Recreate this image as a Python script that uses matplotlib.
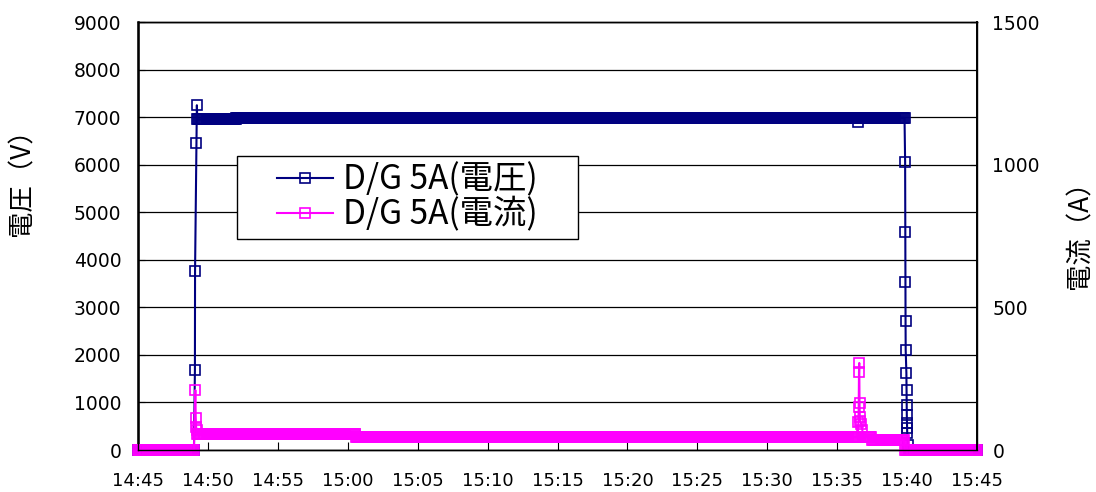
import numpy as np
import matplotlib
matplotlib.use('Agg')
import matplotlib.pyplot as plt
from matplotlib.patches import Rectangle

plt.rcParams['font.family'] = ['DejaVu Sans', 'Noto Sans CJK JP']
CJK = ['Noto Sans CJK JP', 'DejaVu Sans']

# time axis: minutes after 14:45
tick_minutes = list(range(0, 61, 5))
tick_labels = ['14:45', '14:50', '14:55', '15:00', '15:05', '15:10', '15:15',
               '15:20', '15:25', '15:30', '15:35', '15:40', '15:45']
STEP = 1 / 15  # logger interval (4 s)

# voltage: steady runs (start, end, V) and the transient samples between them
volt_runs = [(0.0, 4.05, 0), (4.24, 7.0, 6950), (7.0, 51.5, 6985),
             (51.55, 54.85, 6985), (55.12, 60.05, 0)]
volt_rise_t = [4.07, 4.08, 4.18, 4.21]
volt_rise_v = [1680, 3760, 6450, 7250]
volt_dip_t = [51.5]
volt_dip_v = [6900]
volt_fall_t = [54.86, 54.87, 54.88, 54.89, 54.90, 54.95, 54.96, 54.97,
               54.98, 54.99, 55.00, 55.01, 55.05]
volt_fall_v = [6056, 4584, 3533, 2713, 2103, 1619, 1262, 946, 736, 568,
               463, 357, 100]

# current: steady runs (start, end, A) and transients
cur_runs = [(0.0, 4.06, 0), (4.22, 15.6, 56), (15.6, 51.5, 45),
            (51.85, 52.5, 45), (52.5, 54.8, 35), (54.85, 60.05, 0)]
cur_rise_t = [4.1, 4.13, 4.16, 4.19]
cur_rise_v = [210, 112, 80, 70]
cur_spike_t = [51.52, 51.54, 51.56, 51.58, 51.60, 51.62, 51.66, 51.72, 51.8]
cur_spike_v = [98, 150, 273, 305, 165, 115, 100, 90, 70]


def runs_to_series(runs):
    t, v = [], []
    for start, end, val in runs:
        ts = np.arange(start, end, STEP)
        t.append(ts)
        v.append(np.full(len(ts), val, dtype=float))
    return np.concatenate(t), np.concatenate(v)


def build(runs, extra):
    t, v = runs_to_series(runs)
    for et, ev in extra:
        t = np.concatenate([t, et])
        v = np.concatenate([v, ev])
    order = np.argsort(t, kind='stable')
    return t[order], v[order]


vt, vv = build(volt_runs, [(volt_rise_t, volt_rise_v), (volt_dip_t, volt_dip_v),
                           (volt_fall_t, volt_fall_v)])
ct, cv = build(cur_runs, [(cur_rise_t, cur_rise_v), (cur_spike_t, cur_spike_v)])

navy = '#000080'
magenta = '#FF00FF'

fig = plt.figure(figsize=(10.96, 4.92), dpi=100)
ax1 = fig.add_axes([138 / 1096, 42 / 492, 839 / 1096, 428 / 492])
ax2 = ax1.twinx()

l1, = ax1.plot(vt, vv, color=navy, lw=1.5, marker='s', ms=7.5, mfc='none',
               mew=1.2, clip_on=False, label='D/G 5A(電圧)')
l2, = ax2.plot(ct, cv, color=magenta, lw=1.5, marker='s', ms=7.5, mfc='none',
               mew=1.2, clip_on=False, label='D/G 5A(電流)')

ax1.set_xlim(0, 60)
ax1.set_ylim(0, 9000)
ax2.set_ylim(0, 1500)
ax1.set_yticks(range(0, 9001, 1000))
ax2.set_yticks([0, 500, 1000, 1500])
ax1.set_xticks(tick_minutes)
ax1.set_xticklabels(tick_labels)
ax1.yaxis.grid(True, color='black', lw=0.9)
ax1.set_axisbelow(True)

ax1.tick_params(axis='x', direction='in', length=6, pad=16, labelsize=13)
ax1.tick_params(axis='y', direction='in', length=5, pad=12, labelsize=13.5)
ax2.tick_params(axis='y', direction='in', length=5, pad=11, labelsize=13.5)

for ax in (ax1, ax2):
    for s in ax.spines.values():
        s.set_color('black')
        s.set_linewidth(1.0)
ax1.spines['left'].set_linewidth(1.8)
ax2.spines['right'].set_linewidth(1.4)

fig.text(22 / 1096, 1 - 176 / 492, '電圧（V）', rotation=90, ha='center',
         va='center', fontsize=19, family=CJK)
fig.text(1080 / 1096, 1 - 228 / 492, '電流（A）', rotation=90, ha='center',
         va='center', fontsize=19, family=CJK)

box = Rectangle((237 / 1096, 1 - 239 / 492), 341 / 1096, 83 / 492,
                transform=fig.transFigure, facecolor='white', edgecolor='black',
                lw=1.0, zorder=4)
fig.add_artist(box)
fig.legend(handles=[l1, l2], loc='center',
           bbox_to_anchor=((237 + 578) / 2 / 1096, 1 - (156 + 239) / 2 / 492),
           frameon=False, prop={'family': CJK, 'size': 24}, handlelength=1.7,
           handletextpad=0.3, labelspacing=0.0, borderpad=0.1)

fig.savefig('out.png', dpi=100)
